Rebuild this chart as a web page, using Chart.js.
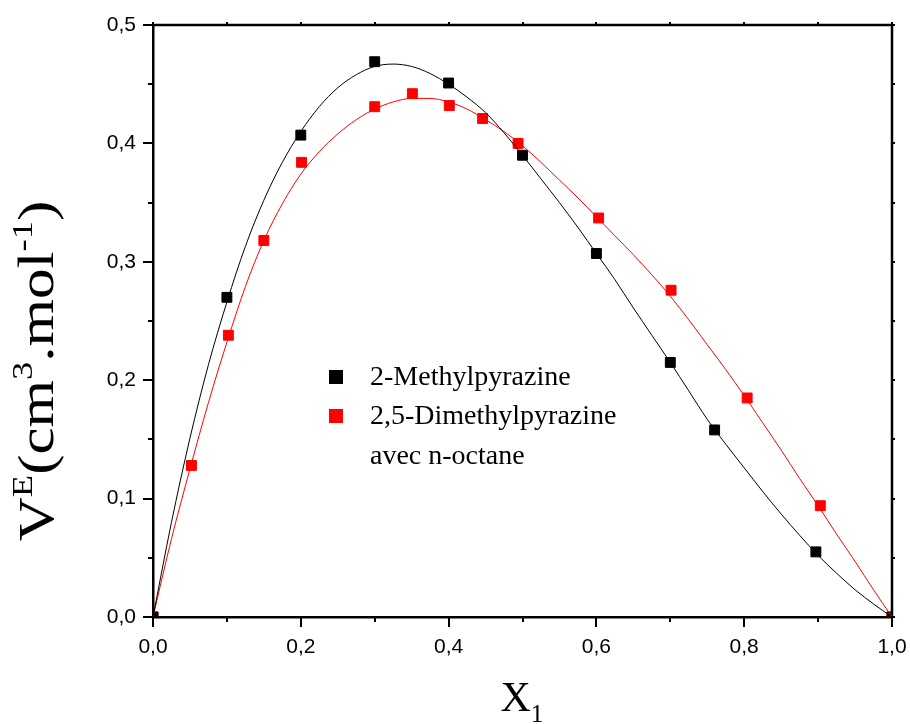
<!DOCTYPE html>
<html>
<head>
<meta charset="utf-8">
<script src="https://cdn.jsdelivr.net/npm/chart.js@4.4.0/dist/chart.umd.min.js"></script>
<style>
html, body { margin: 0; padding: 0; background: #fff; }
#wrap { width: 910px; height: 724px; }
</style>
</head>
<body>
<div id="wrap"><canvas id="chart"></canvas></div>
<script>
const methylX = [0, 0.1, 0.2, 0.3, 0.4, 0.5, 0.6, 0.7, 0.76, 0.897, 1.0];
const methylY = [0, 0.270, 0.407, 0.469, 0.451, 0.390, 0.307, 0.215, 0.158, 0.055, 0];

const dimethylX = [0, 0.052, 0.102, 0.15, 0.201, 0.3, 0.351, 0.401, 0.446, 0.494, 0.603, 0.701, 0.804, 0.903, 1.0];
const dimethylY = [0, 0.128, 0.238, 0.318, 0.384, 0.431, 0.442, 0.432, 0.421, 0.400, 0.337, 0.276, 0.185, 0.094, 0];

// fitted curves (at steps of 0.025)
const fitX = [0, 0.025, 0.05, 0.075, 0.1, 0.125, 0.15, 0.175, 0.2, 0.225, 0.25, 0.275, 0.3, 0.325, 0.35, 0.375, 0.4,
  0.425, 0.45, 0.475, 0.5, 0.525, 0.55, 0.575, 0.6, 0.625, 0.65, 0.675, 0.7, 0.725, 0.75, 0.775, 0.8, 0.825, 0.85,
  0.875, 0.9, 0.925, 0.95, 0.975, 1.0];
const fitMethyl = [0, 0.080, 0.151, 0.213, 0.266, 0.313, 0.352, 0.384, 0.410, 0.431, 0.447, 0.458, 0.465, 0.467, 0.465,
  0.459, 0.450, 0.439, 0.426, 0.409, 0.390, 0.370, 0.350, 0.329, 0.307, 0.285, 0.261, 0.238, 0.215, 0.191, 0.167,
  0.146, 0.126, 0.106, 0.087, 0.069, 0.052, 0.037, 0.023, 0.011, 0];
const fitDimethyl = [0, 0.066, 0.125, 0.181, 0.232, 0.279, 0.318, 0.349, 0.374, 0.393, 0.408, 0.420, 0.429, 0.435, 0.438,
  0.438, 0.435, 0.429, 0.420, 0.410, 0.398, 0.384, 0.369, 0.354, 0.338, 0.322, 0.306, 0.289, 0.271, 0.251, 0.230,
  0.209, 0.187, 0.164, 0.141, 0.117, 0.094, 0.070, 0.047, 0.023, 0];

const legendLabels = ["2-Methylpyrazine", "2,5-Dimethylpyrazine"];
const legendNote = "avec n-octane";
const xTicks = [0, 0.2, 0.4, 0.6, 0.8, 1.0];
const yTicks = [0, 0.1, 0.2, 0.3, 0.4, 0.5];

const BLACK = "#000000";
const RED = "#ff0000";

function toPoints(xs, ys) {
  return xs.map((x, i) => ({ x: x, y: ys[i] }));
}
function comma(v) {
  return v.toFixed(1).replace(".", ",");
}

// draw text pieces with super/subscripts, starting at (0,0) baseline
function richWidth(ctx, parts, size, family) {
  let w = 0;
  parts.forEach(p => {
    ctx.font = (p.s ? size * 0.6 : size) + "px " + family;
    w += ctx.measureText(p.t).width;
  });
  return w;
}
function drawRich(ctx, parts, x, y, size, family) {
  let cx = x;
  parts.forEach(p => {
    ctx.font = (p.s ? size * 0.6 : size) + "px " + family;
    let dy = 0;
    if (p.s === 1) dy = -size * 0.42;
    if (p.s === -1) dy = size * 0.25;
    ctx.fillText(p.t, cx, y + dy);
    cx += ctx.measureText(p.t).width;
  });
}

const framePlugin = {
  id: "frame",
  beforeDatasetsDraw(chart) {
    const ctx = chart.ctx;
    const a = chart.chartArea;
    const xs = chart.scales.x, ys = chart.scales.y;
    ctx.save();
    ctx.strokeStyle = BLACK;
    ctx.lineWidth = 2.5;
    ctx.beginPath();
    ctx.moveTo(a.left, a.top);
    ctx.lineTo(a.right, a.top);
    ctx.lineTo(a.right, a.bottom);
    ctx.stroke();

    ctx.lineWidth = 2;
    ctx.beginPath();
    // bottom + top ticks
    for (let i = 0; i <= 10; i++) {
      const px = Math.round(xs.getPixelForValue(i / 10));
      const len = i % 2 === 0 ? 10 : 5;
      ctx.moveTo(px, a.bottom);
      ctx.lineTo(px, a.bottom + len);
      ctx.moveTo(px, a.top);
      ctx.lineTo(px, a.top - 3);
    }
    // left + right ticks
    for (let i = 0; i <= 10; i++) {
      const py = Math.round(ys.getPixelForValue(i * 0.05));
      const len = i % 2 === 0 ? 10 : 5;
      ctx.moveTo(a.left, py);
      ctx.lineTo(a.left - len, py);
      ctx.moveTo(a.right, py);
      ctx.lineTo(a.right + 3, py);
    }
    ctx.stroke();
    ctx.restore();
  },
  afterDraw(chart) {
    const ctx = chart.ctx;
    const serif = "'Liberation Serif', 'Times New Roman', serif";
    ctx.save();
    ctx.fillStyle = BLACK;
    ctx.textBaseline = "alphabetic";
    ctx.textAlign = "left";

    // legend
    const colors = [chart.data.datasets[2].backgroundColor, chart.data.datasets[3].backgroundColor];
    const rows = [385, 424];
    legendLabels.forEach((lab, i) => {
      ctx.fillStyle = colors[i];
      ctx.fillRect(329, rows[i] - 15, 14, 14);
      ctx.fillStyle = BLACK;
      ctx.font = "28px " + serif;
      ctx.fillText(lab, 370, rows[i]);
    });
    ctx.font = "28px " + serif;
    ctx.fillText(legendNote, 370, 464);

    // x title
    const xParts = [{ t: "X", s: 0 }, { t: "1", s: -1 }];
    const xw = richWidth(ctx, xParts, 42, serif);
    drawRich(ctx, xParts, 522 - xw / 2, 711, 42, serif);

    // y title, stretched along its length like the original
    const yParts = [
      { t: "V", s: 0 }, { t: "E", s: 1 }, { t: "(cm", s: 0 }, { t: "3", s: 1 },
      { t: ".mol", s: 0 }, { t: "-1", s: 1 }, { t: ")", s: 0 }
    ];
    const yw = richWidth(ctx, yParts, 50, serif);
    ctx.translate(53, 371);
    ctx.rotate(-Math.PI / 2);
    ctx.scale(1.22, 1);
    drawRich(ctx, yParts, -yw / 2, 0, 50, serif);
    ctx.restore();
  }
};

const ctx = document.getElementById("chart").getContext("2d");
new Chart(ctx, {
  type: "scatter",
  data: {
    datasets: [
      {
        type: "line",
        data: toPoints(fitX, fitMethyl),
        borderColor: BLACK,
        borderWidth: 1,
        pointRadius: 0,
        cubicInterpolationMode: "monotone",
        fill: false
      },
      {
        type: "line",
        data: toPoints(fitX, fitDimethyl),
        borderColor: RED,
        borderWidth: 1,
        pointRadius: 0,
        cubicInterpolationMode: "monotone",
        fill: false
      },
      {
        label: legendLabels[0],
        data: toPoints(methylX, methylY),
        pointStyle: "rect",
        pointRadius: 7,
        borderWidth: 1,
        backgroundColor: BLACK,
        borderColor: BLACK
      },
      {
        label: legendLabels[1],
        data: toPoints(dimethylX, dimethylY),
        pointStyle: "rect",
        pointRadius: 7,
        borderWidth: 1,
        backgroundColor: RED,
        borderColor: RED
      }
    ]
  },
  options: {
    responsive: true,
    maintainAspectRatio: false,
    animation: false,
    layout: { padding: { left: 0, right: 18, top: 25, bottom: 0 } },
    plugins: {
      legend: { display: false },
      tooltip: { enabled: false }
    },
    scales: {
      x: {
        type: "linear",
        min: 0,
        max: 1,
        afterBuildTicks: s => { s.ticks = xTicks.map(v => ({ value: v })); },
        afterFit: s => { s.height = 107; s.paddingLeft = 0; s.paddingRight = 0; },
        ticks: {
          callback: v => comma(v),
          color: BLACK,
          padding: 18,
          maxRotation: 0,
          font: { family: "'Liberation Sans', Arial, sans-serif", size: 21 }
        },
        grid: { display: false, drawTicks: false },
        border: { display: true, color: BLACK, width: 2.5 }
      },
      y: {
        type: "linear",
        min: 0,
        max: 0.5,
        afterBuildTicks: s => { s.ticks = yTicks.map(v => ({ value: v })); },
        afterFit: s => { s.width = 153; s.paddingTop = 0; s.paddingBottom = 0; },
        ticks: {
          callback: v => comma(v),
          color: BLACK,
          padding: 17,
          font: { family: "'Liberation Sans', Arial, sans-serif", size: 21 }
        },
        grid: { display: false, drawTicks: false },
        border: { display: true, color: BLACK, width: 2.5 }
      }
    }
  },
  plugins: [framePlugin]
});
</script>
</body>
</html>
